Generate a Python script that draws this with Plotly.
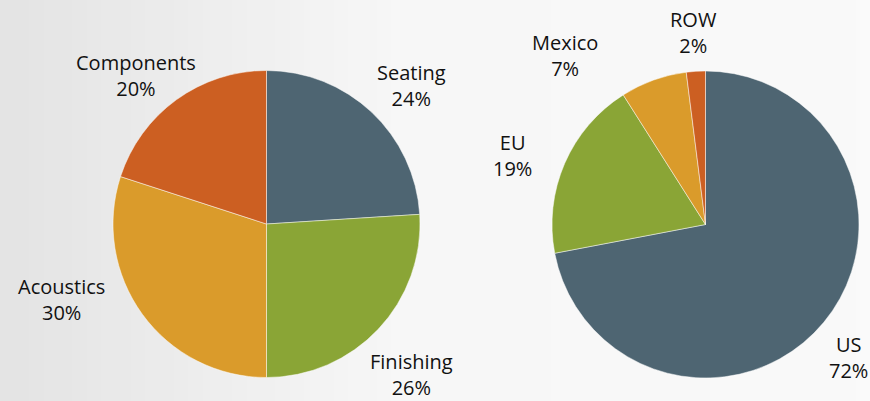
import plotly.graph_objects as go

# Data
segments = ["Seating", "Finishing", "Acoustics", "Components"]
segment_pct = [24, 26, 30, 20]
regions = ["US", "EU", "Mexico", "ROW"]
region_pct = [72, 19, 7, 2]

seg_colors = ["#4E6572", "#8AA536", "#DA9B2B", "#CC5F22"]
reg_colors = ["#4E6572", "#8AA536", "#DA9B2B", "#CC5F22"]

W, H = 870, 401

# label centres in pixels (layout only)
seg_label_pos = [(411, 86), (411, 374), (61, 299), (136, 75)]
reg_label_pos = [(848, 357), (512, 155), (565, 56), (693, 32)]

fig = go.Figure()

def dom(x0, x1, y0, y1):
    return dict(x=[x0 / W, x1 / W], y=[1 - y1 / H, 1 - y0 / H])

common = dict(sort=False, direction="clockwise", rotation=0, textinfo="none",
              hoverinfo="label+percent", showlegend=False)

fig.add_trace(go.Pie(labels=segments, values=segment_pct,
                     marker=dict(colors=seg_colors, line=dict(color="rgba(255,255,255,0.6)", width=0.8)),
                     domain=dom(113, 420, 70, 378), **common))
fig.add_trace(go.Pie(labels=regions, values=region_pct,
                     marker=dict(colors=reg_colors, line=dict(color="rgba(255,255,255,0.6)", width=0.8)),
                     domain=dom(552, 859, 71, 378), **common))

annotations = []
for labs, vals, poss in [(segments, segment_pct, seg_label_pos), (regions, region_pct, reg_label_pos)]:
    for lab, v, (px, py) in zip(labs, vals, poss):
        annotations.append(dict(text=f"{lab}<br>{v}%", x=px / W, y=1 - py / H,
                                xref="paper", yref="paper", showarrow=False,
                                xanchor="center", yanchor="middle", align="center",
                                font=dict(size=20, color="#111111",
                                          family="Open Sans, Noto Sans, sans-serif")))

# soft grey background gradient
shapes = []
n = 60
for i in range(n):
    t = i / (n - 1)
    if t < 0.45:
        g = int(228 + (247 - 228) * (t / 0.45))
    else:
        g = int(247 + (250 - 247) * ((t - 0.45) / 0.55))
    shapes.append(dict(type="rect", xref="paper", yref="paper",
                       x0=i / n, x1=(i + 1) / n + 0.002, y0=0, y1=1,
                       fillcolor=f"rgb({g},{g},{g})", line=dict(width=0), layer="below"))

fig.update_layout(width=W, height=H, margin=dict(l=0, r=0, t=0, b=0),
                  paper_bgcolor="#f2f2f2", plot_bgcolor="#f2f2f2",
                  annotations=annotations, shapes=shapes)

fig.write_html("out.html")
